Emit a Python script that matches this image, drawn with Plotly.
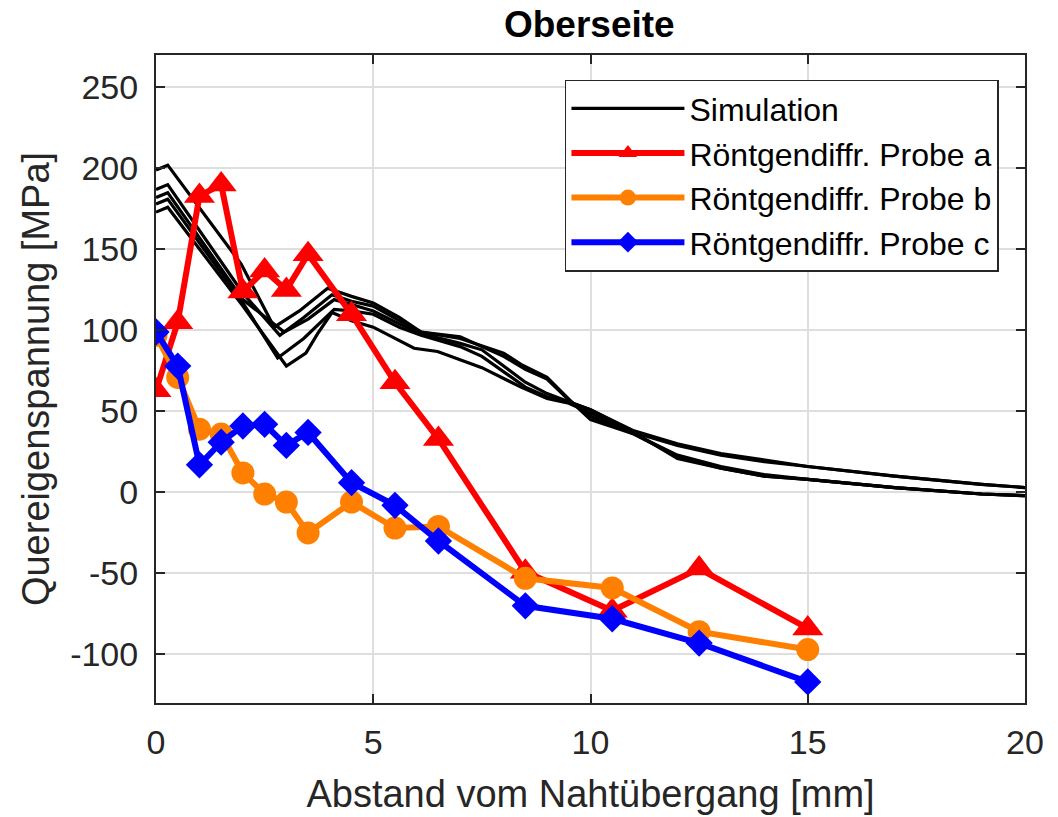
import plotly.graph_objects as go

# --- Simulation curves (5 lines) ---
sim1_x = [0, 0.27, 1.96, 2.72, 3.3, 3.95, 4.5, 5.0, 5.6, 6.1, 7.0, 8.0, 8.4, 9.0, 9.6, 10.0, 11.0, 12.0, 13.0, 14.0, 15.0, 17.0, 19.0, 20.0]
sim1_y = [199, 202, 141, 102, 112, 126, 121, 117, 108, 99, 95, 86, 79, 71, 55, 45, 36, 22, 15, 10, 8, 3, -1, -2]
sim2_x = [0, 0.27, 2.0, 2.85, 3.4, 4.05, 4.5, 5.0, 5.6, 6.1, 7.0, 8.0, 8.5, 9.0, 9.5, 10.0, 11.0, 12.0, 13.0, 14.0, 15.0, 17.0, 19.0, 20.0]
sim2_y = [187, 190, 123, 97, 108, 122, 118, 115, 106, 99, 96, 84, 76, 70, 57, 47, 36, 23, 16, 11, 8, 3, -1, -2]
sim3_x = [0, 0.27, 2.0, 2.95, 3.5, 4.1, 4.5, 5.0, 5.6, 6.1, 7.0, 7.5, 8.5, 9.0, 9.5, 10.0, 11.0, 12.0, 13.0, 14.0, 15.0, 17.0, 19.0, 20.0]
sim3_y = [182, 185, 119, 99, 107, 119, 116, 112, 104, 98, 92, 88, 68, 61, 56, 51, 38, 30, 24, 20, 16, 10, 5, 3]
sim4_x = [0, 0.27, 2.0, 2.8, 3.4, 4.1, 4.5, 5.0, 5.6, 6.1, 7.0, 7.5, 8.5, 9.0, 9.5, 10.0, 11.0, 12.0, 13.0, 14.0, 15.0, 17.0, 19.0, 20.0]
sim4_y = [178, 181, 117, 83, 95, 113, 112, 110, 102, 97, 90, 84, 65, 59, 56, 51, 37, 29, 23, 19, 16, 10, 5, 3]
sim5_x = [0, 0.27, 2.0, 3.0, 3.45, 3.72, 4.05, 4.5, 5.0, 5.94, 6.48, 7.5, 8.4, 9.0, 9.5, 10.0, 11.0, 12.0, 13.0, 14.0, 15.0, 17.0, 19.0, 20.0]
sim5_y = [173, 176, 115, 78, 86, 98, 111, 106, 102, 89, 87, 77, 65, 58, 55, 49, 37, 21, 15, 10, 8, 3, -1, -2]

# --- X-ray diffraction measurements ---
meas_x = [0, 0.5, 1, 1.5, 2, 2.5, 3, 3.5, 4.5, 5.5, 6.5, 8.5, 10.5, 12.5, 15]
probe_a = [63, 105, 183, 190, 124, 137, 125, 147, 110, 68, 33, -49, -73, -47, -84]
probe_b = [97, 71, 39, 36, 12, -1, -6, -25, -6, -22, -21, -53, -59, -86, -97]
probe_c = [99, 78, 17, 31, 41, 42, 29, 37, 6, -8, -30, -70, -78, -93, -117]

x_ticks = [0, 5, 10, 15, 20]
y_ticks = [-100, -50, 0, 50, 100, 150, 200, 250]

FONT = "Liberation Sans, Arial, sans-serif"
AX = "#262626"

fig = go.Figure()
sims = [(sim1_x, sim1_y), (sim2_x, sim2_y), (sim3_x, sim3_y), (sim4_x, sim4_y), (sim5_x, sim5_y)]
for i, (sx, sy) in enumerate(sims):
    fig.add_trace(go.Scatter(x=sx, y=sy, mode="lines", name="Simulation",
                             line=dict(color="black", width=3.2),
                             legendgroup="sim", showlegend=(i == 0)))

fig.add_trace(go.Scatter(x=meas_x, y=probe_a, mode="lines+markers", name="Röntgendiffr. Probe a",
                         line=dict(color="#ff0000", width=6),
                         marker=dict(symbol="triangle-up", size=27, color="#ff0000")))
fig.add_trace(go.Scatter(x=meas_x, y=probe_b, mode="lines+markers", name="Röntgendiffr. Probe b",
                         line=dict(color="#ff8000", width=6),
                         marker=dict(symbol="circle", size=23, color="#ff8000")))
fig.add_trace(go.Scatter(x=meas_x, y=probe_c, mode="lines+markers", name="Röntgendiffr. Probe c",
                         line=dict(color="#0000ff", width=6),
                         marker=dict(symbol="diamond", size=21, color="#0000ff")))

axis_common = dict(showline=True, linecolor=AX, linewidth=2, mirror="ticks",
                   ticks="inside", ticklen=9, tickwidth=2, tickcolor=AX,
                   showgrid=True, gridcolor="#dedede", gridwidth=1.5, zeroline=False,
                   automargin=False,
                   tickfont=dict(family=FONT, size=34, color=AX))

fig.update_xaxes(range=[0, 20], tickvals=x_ticks, ticktext=[str(v) for v in x_ticks],
                 ticklabelstandoff=8,
                 title=dict(text="Abstand vom Nahtübergang [mm]", font=dict(family=FONT, size=38, color=AX), standoff=21),
                 **axis_common)
fig.update_yaxes(range=[-130, 270], tickvals=y_ticks, ticktext=[str(v) for v in y_ticks],
                 ticklabelstandoff=9,
                 title=dict(text="Quereigenspannung [MPa]", font=dict(family=FONT, size=38, color=AX), standoff=9),
                 **axis_common)

fig.update_layout(
    width=1058, height=817,
    margin=dict(l=156, r=33, t=55, b=114, autoexpand=False),
    plot_bgcolor="white", paper_bgcolor="white",
    title=dict(text="<b>Oberseite</b>", x=0.557, xanchor="center", y=0.987, yanchor="top",
               font=dict(family=FONT, size=37, color="black")),
    legend=dict(x=0.97, xanchor="right", y=0.962, yanchor="top",
                bgcolor="white", bordercolor=AX, borderwidth=1.5,
                font=dict(family=FONT, size=32, color="black"),
                itemwidth=113, tracegroupgap=0),
    showlegend=True,
)

fig.write_html("out.html")
